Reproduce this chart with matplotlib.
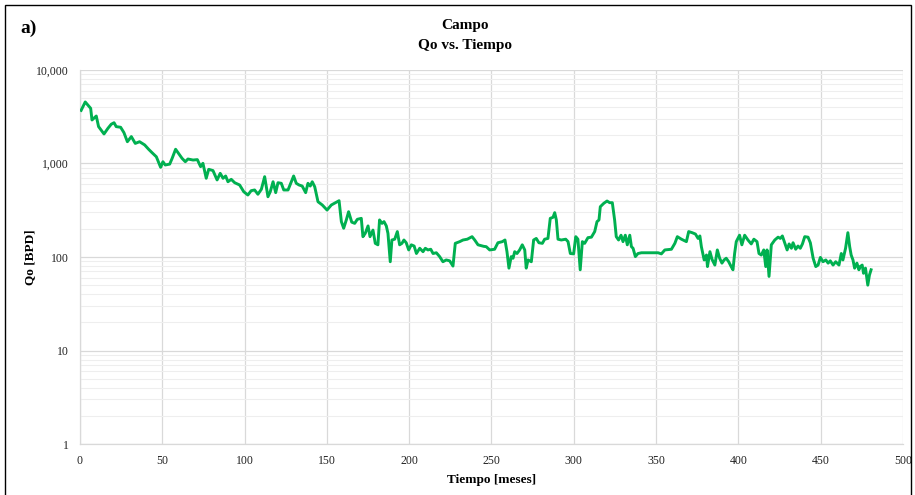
import matplotlib
matplotlib.use("Agg")
import matplotlib.pyplot as plt
from matplotlib.ticker import FixedLocator, FuncFormatter, NullFormatter
from matplotlib.patches import Rectangle

# Field oil rate, months vs. BPD
tiempo = [
    0.7, 3.2, 6.5, 7.3, 9.9, 11.3, 14.6, 17.0, 19.0, 20.7, 22.0, 24.7, 26.7, 28.8,
    31.2, 33.6, 36.2, 39.3, 41.7, 43.7, 46.4, 49.0, 50.4, 51.8, 54.5, 56.0, 58.1,
    60.6, 62.0, 64.0, 65.6, 68.7, 71.3, 73.3, 74.7, 76.7, 78.2, 80.8, 83.3, 85.2,
    86.9, 88.5, 89.9, 91.9, 94.0, 97.0, 99.5, 102.0, 104.0, 106.1, 108.1, 110.2,
    112.2, 113.2, 114.2, 115.6, 117.3, 118.9, 120.3, 122.3, 123.8, 126.4, 128.4,
    129.8, 131.4, 133.1, 135.0, 137.1, 138.5, 139.9, 141.1, 142.6, 144.6, 147.2,
    150.1, 152.7, 157.4, 158.8, 160.2, 161.8, 163.2, 165.1, 166.9, 168.5, 170.9,
    171.9, 173.3, 175.0, 176.2, 178.0, 179.4, 181.0, 182.0, 183.5, 184.7, 186.1,
    187.1, 188.5, 189.5, 191.2, 192.8, 194.2, 195.6, 196.8, 198.2, 199.7, 201.3,
    203.0, 204.4, 206.4, 208.4, 209.8, 211.4, 213.1, 214.5, 216.5, 218.5, 220.5,
    222.5, 224.6, 226.6, 228.0, 230.7, 232.7, 235.3, 238.2, 239.8, 241.8, 245.3,
    246.8, 248.9, 251.9, 253.9, 256.6, 258.2, 259.4, 260.6, 262.0, 263.1, 264.1,
    265.5, 267.1, 268.7, 270.2, 271.1, 272.2, 274.2, 275.6, 277.2, 278.8, 280.9,
    282.3, 284.3, 285.7, 287.4, 288.4, 289.4, 290.4, 292.4, 295.1, 296.5, 297.9,
    299.9, 301.2, 302.5, 303.9, 305.2, 306.6, 308.6, 310.7, 312.7, 314.1, 315.3,
    316.1, 318.2, 320.2, 321.8, 323.4, 324.8, 325.8, 327.2, 328.7, 329.9, 331.3,
    332.5, 334.0, 335.0, 336.0, 337.4, 339.0, 341.1, 351.2, 353.2, 355.3, 359.3,
    361.4, 362.9, 365.4, 367.0, 368.4, 369.8, 371.9, 373.9, 375.5, 376.6, 377.5,
    379.2, 380.6, 381.2, 382.7, 384.0, 385.7, 387.2, 388.6, 390.0, 391.3, 392.6,
    394.1, 395.6, 396.7, 397.7, 398.7, 400.7, 402.1, 403.8, 405.8, 407.8, 409.4,
    411.3, 412.5, 413.9, 415.4, 416.6, 417.4, 418.6, 420.0, 422.1, 424.1, 425.5,
    426.7, 428.2, 429.6, 430.8, 432.2, 433.2, 434.8, 436.2, 437.6, 438.9, 440.3,
    442.3, 443.7, 445.4, 447.0, 448.4, 449.8, 451.4, 453.1, 454.5, 455.8, 457.5,
    459.1, 461.1, 462.5, 463.5, 465.1, 466.5, 467.6, 468.5, 469.6, 470.6, 472.0,
    473.2, 474.0, 475.2, 476.0, 477.2, 478.6, 479.6, 480.6,
]
qo = [
    3700, 4550, 3890, 2920, 3220, 2480, 2070, 2380, 2630, 2730, 2480, 2440, 2140, 1710,
    1940, 1640, 1710, 1580, 1420, 1310, 1180, 910, 1045, 964, 985, 1136, 1420,
    1233, 1136, 1045, 1117, 1089, 1100, 925, 1005, 695, 867, 840, 667, 785,
    695, 735, 638, 677, 623, 589, 499, 460, 512, 521, 469, 530,
    723, 565, 441, 499, 638, 488, 623, 614, 521, 521, 638,
    735, 614, 589, 574, 488, 614, 574, 638, 565, 390, 360,
    318, 360, 400, 239, 203, 249, 305, 236, 229, 253, 259,
    165, 179, 215, 165, 194, 140, 135, 249, 229, 239, 215,
    179, 89, 152, 155, 187, 135, 140, 152, 142, 119, 135,
    131, 109, 124, 114, 124, 119, 121, 109, 111, 101, 89,
    93, 91, 80, 140, 146, 152, 155, 165, 152, 135, 130,
    129, 119, 121, 142, 146, 152, 114, 76, 101, 97, 114,
    109, 119, 135, 119, 76, 93, 89, 152, 158, 142, 140,
    155, 158, 259, 266, 298, 249, 155, 152, 155, 146, 109,
    108, 165, 155, 73, 146, 140, 161, 163, 187, 239, 249,
    345, 375, 397, 381, 381, 249, 165, 152, 171, 146, 171,
    135, 171, 129, 124, 101, 109, 111, 111, 108, 119, 121,
    140, 165, 155, 150, 146, 187, 182, 176, 158, 168, 129,
    93, 105, 79, 114, 94, 82, 119, 97, 86, 93, 97,
    89, 79, 73, 109, 146, 171, 135, 171, 152, 138, 155,
    146, 109, 105, 119, 79, 119, 62, 135, 152, 163, 158,
    168, 140, 119, 138, 124, 142, 121, 131, 124, 138, 165,
    163, 142, 97, 79, 82, 99, 89, 93, 86, 91, 82,
    89, 82, 109, 93, 124, 182, 129, 105, 93, 76, 86,
    73, 79, 82, 67, 76, 50, 64, 73,
]

x_ticks = [0, 50, 100, 150, 200, 250, 300, 350, 400, 450, 500]
y_ticks = [1, 10, 100, 1000, 10000]

plt.rcParams['font.family'] = ['Liberation Serif', 'DejaVu Serif']

fig = plt.figure(figsize=(9.15, 4.95), dpi=100)
ax = fig.add_axes([0.0874, 0.103, 0.8995, 0.7556])

ax.plot(tiempo, qo, color='#00B050', lw=2.1, solid_joinstyle='round', zorder=3)

ax.set_yscale('log')
ax.set_xlim(0, 500)
ax.set_ylim(1, 10000)
ax.set_xticks(x_ticks)
ax.yaxis.set_major_locator(FixedLocator(y_ticks))
minor = [m * 10 ** k for k in range(4) for m in range(2, 10)]
ax.yaxis.set_minor_locator(FixedLocator(minor))
ax.yaxis.set_minor_formatter(NullFormatter())
ax.yaxis.set_major_formatter(FuncFormatter(lambda v, p: f'{v:,.0f}'))

ax.grid(which='major', color='#d9d9d9', lw=0.9, zorder=0)
ax.grid(which='minor', axis='y', color='#eeeeee', lw=0.8, zorder=0)
ax.set_axisbelow(True)
ax.tick_params(which='both', length=0, labelsize=8.5, colors='#222222', pad=8)

for s in ('top', 'right'):
    ax.spines[s].set_visible(False)
for s in ('left', 'bottom'):
    ax.spines[s].set_color('#d9d9d9')
    ax.spines[s].set_linewidth(0.9)

ax.set_xlabel('Tiempo [meses]', fontsize=9.5, fontweight='bold', labelpad=5)
ax.set_ylabel('Qo [BPD]', fontsize=9.5, fontweight='bold')
ax.yaxis.set_label_coords(-0.053, 0.5)

fig.text(0.508, 0.948, 'Campo', ha='center', va='center', fontsize=11, fontweight='bold')
fig.text(0.508, 0.908, 'Qo vs. Tiempo', ha='center', va='center', fontsize=11, fontweight='bold')
fig.text(0.022, 0.942, 'a)', ha='left', va='center', fontsize=14, fontweight='bold')

# outer frame
fig.patches.append(Rectangle((0.005, -0.02), 0.991, 1.01, transform=fig.transFigure,
                             fill=False, ec='black', lw=1.0))

fig.savefig('out.png', dpi=100)
